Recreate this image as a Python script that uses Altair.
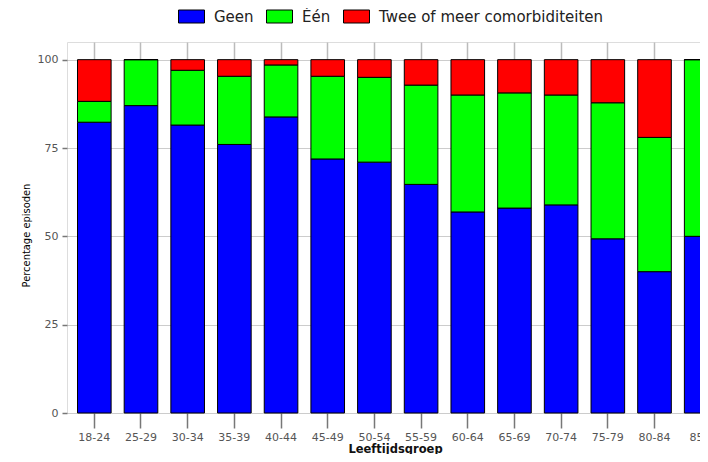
import altair as alt
import pandas as pd

categories = ["18-24", "25-29", "30-34", "35-39", "40-44", "45-49", "50-54",
              "55-59", "60-64", "65-69", "70-74", "75-79", "80-84", "85+"]
geen = [82.3, 87.0, 81.5, 76.0, 83.8, 71.9, 71.0, 64.7, 56.9, 58.0, 58.9, 49.3, 40.0, 50.0]
een = [5.9, 13.0, 15.5, 19.3, 14.7, 23.4, 24.0, 28.1, 33.1, 32.6, 31.1, 38.5, 38.0, 50.0]
twee = [11.8, 0.0, 3.0, 4.7, 1.5, 4.7, 5.0, 7.2, 10.0, 9.4, 10.0, 12.2, 22.0, 0.0]
series_names = ["Geen", "Één", "Twee of meer comorbiditeiten"]
series_colors = ["#0000ff", "#00ff00", "#ff0000"]
y_ticks = [0, 25, 50, 75, 100]

rows = []
for i, c in enumerate(categories):
    for k, (name, vals) in enumerate(zip(series_names, [geen, een, twee])):
        rows.append({"groep": c, "reeks": name, "waarde": vals[i], "volgorde": k})
df = pd.DataFrame(rows)

chart = alt.Chart(df).mark_bar(stroke="black", strokeWidth=1).encode(
    x=alt.X(
        "groep:N", sort=categories,
        scale=alt.Scale(range=[0, 661.5], paddingInner=0.28, paddingOuter=0.225),
        axis=alt.Axis(
            title="Leeftijdsgroep", labelAngle=0, domain=False, grid=True,
            gridColor="#bbbbbb", gridWidth=1.5,
            tickSize=15, tickColor="#777777", tickWidth=1.5,
            labelFont="DejaVu Sans", labelFontSize=11, labelColor="#555555", labelPadding=3,
            titleFont="DejaVu Sans", titleFontSize=11.5, titleFontWeight="bold", titleColor="#111111",
            titleX=328, titleY=41, titleBaseline="bottom", titleAlign="center",
        ),
    ),
    y=alt.Y(
        "waarde:Q", stack="zero",
        scale=alt.Scale(domain=[0, 105], nice=False),
        axis=alt.Axis(
            values=y_ticks, title="Percentage episoden", domain=False, grid=True,
            gridColor="#cccccc", gridWidth=1,
            tickSize=5, tickColor="#777777", tickWidth=1.5,
            labelFont="DejaVu Sans", labelFontSize=11, labelColor="#555555", labelPadding=4,
            titleFont="DejaVu Sans Condensed", titleFontSize=11,
            titleFontWeight="normal", titleColor="#000000",
            titleX=-41, titleY=193, titleAngle=270, titleAlign="center", titleBaseline="middle",
        ),
    ),
    color=alt.Color(
        "reeks:N", sort=series_names,
        scale=alt.Scale(domain=series_names, range=series_colors),
        legend=alt.Legend(
            title=None, orient="none", legendX=111, legendY=-39, direction="horizontal",
            symbolType="M-1,-0.5H1V0.5H-1Z", symbolSize=676,
            symbolStrokeColor="black", symbolStrokeWidth=1, symbolOpacity=1,
            labelFont="DejaVu Sans", labelFontSize=15, labelColor="#222222",
            labelOffset=9, columnPadding=10, labelLimit=400,
        ),
    ),
    order=alt.Order("volgorde:Q", sort="ascending"),
).properties(
    width=633, height=371,
    autosize=alt.AutoSizeParams(type="none"),
    padding={"left": 59, "top": 34, "right": 0, "bottom": 41},
).configure_view(strokeWidth=0).configure(background="white")

chart.save("out.html", embed_options={"renderer": "svg", "actions": False})
